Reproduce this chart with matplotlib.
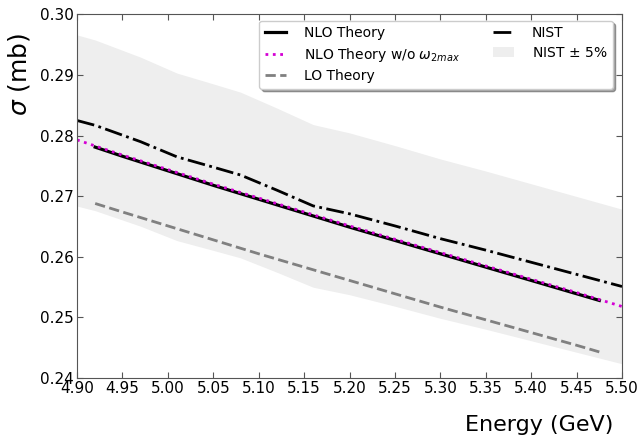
import matplotlib
matplotlib.use("Agg")
import matplotlib.pyplot as plt
import numpy as np

# values
nist_e = [4.90, 4.92, 4.97, 5.01, 5.05, 5.08, 5.12, 5.16, 5.20, 5.25, 5.30, 5.35, 5.40, 5.45, 5.50]
nist_sigma = [0.2825, 0.2817, 0.2790, 0.2765, 0.2748, 0.2735, 0.2710, 0.2684, 0.2671,
              0.2651, 0.2630, 0.2611, 0.2591, 0.2571, 0.2551]

nlo_e = [4.92, 4.95, 5.00, 5.05, 5.10, 5.15, 5.20, 5.25, 5.30, 5.35, 5.40, 5.45, 5.475]
nlo_sigma = [0.2781, 0.2766, 0.2742, 0.2718, 0.2695, 0.2672, 0.2649, 0.2627, 0.2605,
             0.2583, 0.2561, 0.2539, 0.2528]

nlo_nw_e = [4.90, 4.95, 5.00, 5.05, 5.10, 5.15, 5.20, 5.25, 5.30, 5.35, 5.40, 5.45, 5.50]
nlo_nw_sigma = [0.2793, 0.2768, 0.2744, 0.2720, 0.2697, 0.2674, 0.2651, 0.2629, 0.2607,
                0.2585, 0.2563, 0.2541, 0.2518]

lo_e = [4.92, 4.95, 5.00, 5.05, 5.10, 5.15, 5.20, 5.25, 5.30, 5.35, 5.40, 5.45, 5.475]
lo_sigma = [0.2688, 0.2674, 0.2651, 0.2628, 0.2605, 0.2583, 0.2561, 0.2539, 0.2517,
            0.2496, 0.2475, 0.2454, 0.2443]

x_ticks = [4.90, 4.95, 5.00, 5.05, 5.10, 5.15, 5.20, 5.25, 5.30, 5.35, 5.40, 5.45, 5.50]
y_ticks = [0.24, 0.25, 0.26, 0.27, 0.28, 0.29, 0.30]

fig = plt.figure(figsize=(6.38, 4.38), dpi=100)
ax = fig.add_axes([0.1207, 0.137, 0.8543, 0.83])

nist = np.array(nist_sigma)
ax.fill_between(nist_e, nist * 0.95, nist * 1.05, color="#eeeeee", lw=0,
                label="NIST $\\pm$ 5%")
ax.plot(nlo_e, nlo_sigma, color="black", lw=2.3, label="NLO Theory")
ax.plot(nlo_nw_e, nlo_nw_sigma, color="#d400d4", lw=2, ls=":",
        label="NLO Theory w/o $\\omega_{2max}$")
ax.plot(lo_e, lo_sigma, color="gray", lw=2, ls="--", label="LO Theory")
ax.plot(nist_e, nist_sigma, color="black", lw=2, ls="-.", label="NIST")

ax.set_xlim(4.90, 5.50)
ax.set_ylim(0.24, 0.30)
ax.set_xticks(x_ticks)
ax.set_yticks(y_ticks)
ax.set_xticklabels(["%.2f" % v for v in x_ticks])
ax.set_yticklabels(["%.2f" % v for v in y_ticks])
ax.tick_params(direction="in", top=True, right=True, labelsize=11, pad=2,
               color="#555555", length=4)
for s in ax.spines.values():
    s.set_color("#555555")

ax.set_ylabel("$\\sigma$ (mb)", fontsize=18)
ax.yaxis.set_label_coords(-0.083, 0.834)
ax.set_xlabel("Energy (GeV)", fontsize=16, loc="right")
ax.xaxis.set_label_coords(0.9835, -0.103)

handles, labels = ax.get_legend_handles_labels()
order = [1, 2, 3, 4, 0]
ax.legend([handles[i] for i in order], [labels[i] for i in order], ncol=2,
          loc="upper right", bbox_to_anchor=(0.983, 0.983), borderaxespad=0,
          fontsize=10, labelspacing=0.4, handlelength=1.5, handletextpad=1.3,
          columnspacing=2.4, shadow=True, fancybox=True, framealpha=1)

fig.savefig("out.png", dpi=100)
